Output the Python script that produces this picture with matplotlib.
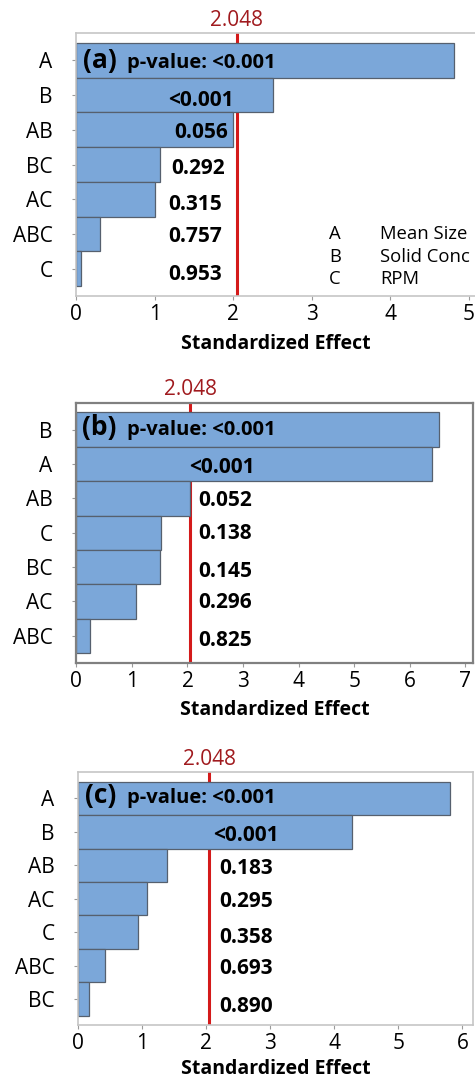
import matplotlib
matplotlib.use("Agg")
import matplotlib.pyplot as plt

plt.rcParams['font.family'] = ['Open Sans', 'DejaVu Sans']

# Pareto data of standardized effects for the three responses
terms_a = ["A", "B", "AB", "BC", "AC", "ABC", "C"]
effects_a = [4.81, 2.51, 2.00, 1.07, 1.01, 0.31, 0.06]
pvals_a = ["<0.001", "<0.001", "0.056", "0.292", "0.315", "0.757", "0.953"]

terms_b = ["B", "A", "AB", "C", "BC", "AC", "ABC"]
effects_b = [6.52, 6.40, 2.04, 1.53, 1.50, 1.08, 0.24]
pvals_b = ["<0.001", "<0.001", "0.052", "0.138", "0.145", "0.296", "0.825"]

terms_c = ["A", "B", "AB", "AC", "C", "ABC", "BC"]
effects_c = [5.80, 4.28, 1.38, 1.075, 0.935, 0.41, 0.16]
pvals_c = ["<0.001", "<0.001", "0.183", "0.295", "0.358", "0.693", "0.890"]

t_crit = 2.048
factor_codes = ["A", "B", "C"]
factor_names = ["Mean Size", "Solid Conc", "RPM"]

BAR_FILL = "#7ba7d9"
BAR_EDGE = "#56606e"
CRIT_LINE = "#d41a1a"
CRIT_TEXT = "#a01a1e"

W, H = 475, 1080
fig = plt.figure(figsize=(W / 100, H / 100), dpi=100)


def px_rect(left, top, right, bottom):
    return [left / W, 1 - bottom / H, (right - left) / W, (bottom - top) / H]


panels = [
    dict(tag="(a)", terms=terms_a, eff=effects_a, pv=pvals_a,
         rect=px_rect(76, 33, 476.5, 296), xmax=5.095, xticks=range(0, 6),
         spine="#c6c6c6", spine_w=1.2, labelpad=6,
         tag_x=0.09, pv0_x=0.65, row0_dy=0.0,
         lab_x=[1.17, 1.25, 1.21, 1.17, 1.17, 1.17],
         lab_dy=[0.09, 0.0, 0.05, 0.09, 0.0, 0.10]),
    dict(tag="(b)", terms=terms_b, eff=effects_b, pv=pvals_b,
         rect=px_rect(76.3, 402.7, 472.7, 662.7), xmax=7.13, xticks=range(0, 8),
         spine="#808080", spine_w=1.6, labelpad=6,
         tag_x=0.11, pv0_x=0.92, row0_dy=-0.07,
         lab_x=[2.03, 2.19, 2.19, 2.19, 2.19, 2.19],
         lab_dy=[0.03, 0.0, -0.05, 0.06, -0.04, 0.06]),
    dict(tag="(c)", terms=terms_c, eff=effects_c, pv=pvals_c,
         rect=px_rect(78.3, 772.3, 473.3, 1025), xmax=6.17, xticks=range(0, 7),
         spine="#c6c6c6", spine_w=1.2, labelpad=3.5,
         tag_x=0.10, pv0_x=0.76, row0_dy=-0.10,
         lab_x=[2.10, 2.20, 2.20, 2.20, 2.20, 2.20],
         lab_dy=[0.04, 0.02, 0.0, 0.09, 0.0, 0.15]),
]

for p in panels:
    ax = fig.add_axes(p["rect"])
    rows = list(range(len(p["terms"])))
    # reference line sits behind the bars
    ax.axvline(t_crit, color=CRIT_LINE, linewidth=2.2, zorder=1)
    ax.barh(rows, p["eff"], height=1.0, color=BAR_FILL,
            edgecolor=BAR_EDGE, linewidth=0.9, zorder=2)
    ax.set_xlim(0, p["xmax"])
    ax.set_ylim(len(rows) - 0.5 + 0.28, -0.5 - 0.28)
    ax.set_yticks(rows)
    ax.set_yticklabels(p["terms"], fontsize=15)
    ax.set_xticks(list(p["xticks"]))
    ax.tick_params(axis="y", length=3, width=0.8, color="#9a9a9a", pad=14)
    ax.tick_params(axis="x", length=3, width=0.8, color="#9a9a9a", pad=3,
                   labelsize=15)
    for s in ax.spines.values():
        s.set_color(p["spine"])
        s.set_linewidth(p["spine_w"])
    ax.set_xlabel("Standardized Effect", fontsize=14, fontweight="bold",
                  labelpad=p["labelpad"])

    # critical value label above the reference line
    ax.annotate(f"{t_crit:.3f}", xy=(t_crit, 1.0),
                xycoords=("data", "axes fraction"),
                xytext=(0, 11), textcoords="offset points",
                ha="center", va="center_baseline", fontsize=15,
                color=CRIT_TEXT)

    # panel tag and p-values
    ax.text(p["tag_x"], 0 + p["row0_dy"], p["tag"], fontsize=19,
            fontweight="bold", ha="left", va="center", zorder=4)
    ax.text(p["pv0_x"], 0 + p["row0_dy"], "p-value: " + p["pv"][0],
            fontsize=14.5, fontweight="bold", ha="left",
            va="center_baseline", zorder=4)
    for i, (lx, dy) in enumerate(zip(p["lab_x"], p["lab_dy"]), start=1):
        ax.text(lx, i + dy, p["pv"][i], fontsize=15, fontweight="bold",
                ha="left", va="center_baseline", zorder=4)

    if p["tag"] == "(a)":
        for code, name, fy in zip(factor_codes, factor_names,
                                  [0.243, 0.156, 0.072]):
            ax.text(3.22, fy, code, transform=ax.get_xaxis_transform(),
                    fontsize=13.3, ha="left", va="center_baseline")
            ax.text(3.87, fy, name, transform=ax.get_xaxis_transform(),
                    fontsize=13.3, ha="left", va="center_baseline")

fig.savefig("out.png", dpi=100)
